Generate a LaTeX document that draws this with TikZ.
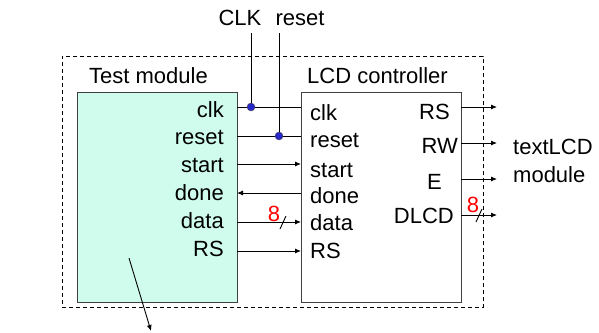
\documentclass[tikz,border=0pt]{standalone}
\usepackage{fontspec}
\setmainfont{Liberation Sans}
\usetikzlibrary{arrows.meta}
\definecolor{tmfill}{RGB}{208,252,238}
\definecolor{dotblue}{RGB}{40,40,200}
\begin{document}
\begin{tikzpicture}[x=1pt,y=-1pt,
  lbl/.style={inner sep=0pt,font=\fontsize{22}{26}\selectfont},
  red8/.style={lbl,text=red},
  box/.style={draw=black!75,line width=0.9pt,inner sep=0pt,anchor=north west},
  wire/.style={line width=0.9pt},
  arr/.style={wire,-{Latex[length=6pt,width=5pt]}},
  jdot/.style={circle,fill=dotblue,draw=black!70,line width=0.4pt,inner sep=0pt,minimum size=8pt}]
\useasboundingbox (0,0) rectangle (599,332);
% outer dashed frame
\node[draw,dash pattern=on 4pt off 3pt,line width=0.9pt,inner sep=0pt,anchor=north west,minimum width=421pt,minimum height=251pt] (frame) at (62,56) {};
% boxes
\node[box,fill=tmfill,minimum width=160pt,minimum height=210pt] (tm) at (77,92) {};
\node[box,fill=white,minimum width=160pt,minimum height=210pt] (lcd) at (301,92) {};
% titles
\node[lbl,anchor=base west] (tmt) at (89,83) {Test module};
\node[lbl,anchor=base west] (lcdt) at (307,83) {LCD controller};
\node[lbl,anchor=base] (clkt) at (240,25) {CLK};
\node[lbl,anchor=base] (rstt) at (300,25) {reset};
\node[lbl,anchor=base west] (t1) at (513,154) {textLCD};
\node[lbl,anchor=base west] (t2) at (513,182) {module};
% left labels (test module)
\node[lbl,anchor=base east] (lclk) at (224,117) {clk};
\node[lbl,anchor=base east] (lrst) at (224,144) {reset};
\node[lbl,anchor=base east] (lstart) at (224,172) {start};
\node[lbl,anchor=base east] (ldone) at (224,200) {done};
\node[lbl,anchor=base east] (ldata) at (224,228) {data};
\node[lbl,anchor=base east] (lrs) at (224,256) {RS};
% LCD input labels
\node[lbl,anchor=base west] (rclk) at (310,120) {clk};
\node[lbl,anchor=base west] (rrst) at (310,147) {reset};
\node[lbl,anchor=base west] (rstart) at (310,177) {start};
\node[lbl,anchor=base west] (rdone) at (310,203) {done};
\node[lbl,anchor=base west] (rdata) at (310,230) {data};
\node[lbl,anchor=base west] (rrs) at (310,258) {RS};
% LCD output labels
\node[lbl,anchor=base east] (ors) at (450,119) {RS};
\node[lbl,anchor=base east] (orw) at (458,153) {RW};
\node[lbl,anchor=base east] (oe) at (442,189) {E};
\node[lbl,anchor=base east] (odl) at (454,223) {DLCD};
% port coordinates
\foreach \n/\y in {clk/107,rst/136,start/164,done/193,data/222,rs/251}{
  \coordinate (a\n) at (237,\y);
  \coordinate (b\n) at (301,\y);
}
\foreach \n/\y in {rs/107,rw/143,e/179,dl/215}{
  \coordinate (o\n) at (461,\y);
  \coordinate (e\n) at (497,\y);
}
\coordinate (clktop) at (251,33);
\coordinate (rsttop) at (279,33);
\coordinate (cclk) at (251,107);
\coordinate (crst) at (279,136);
% wires
\draw[wire] (aclk) -- (bclk);
\draw[wire] (arst) -- (brst);
\draw[wire] (clktop) -- (cclk);
\draw[wire] (rsttop) -- (crst);
\node[jdot] (dclk) at (cclk) {};
\node[jdot] (drst) at (crst) {};
\draw[arr] (astart) -- (bstart);
\draw[arr] (bdone) -- (adone);
\draw[arr] (adata) -- (bdata);
\draw[arr] (ars) -- (brs);
\draw[arr] (ors) -- (ers);
\draw[arr] (orw) -- (erw);
\draw[arr] (oe) -- (ee);
\draw[arr] (odl) -- (edl);
% bus marks
\coordinate (s1a) at (280,229); \coordinate (s1b) at (286,216);
\coordinate (s2a) at (476,222); \coordinate (s2b) at (482,209);
\draw[wire] (s1a) -- (s1b);
\draw[wire] (s2a) -- (s2b);
\node[red8,anchor=base] (n1) at (274,221) {8};
\node[red8,anchor=base] (n2) at (473,212) {8};
% bottom arrow
\coordinate (ba) at (129,258);
\coordinate (bb) at (151,331);
\draw[arr] (ba) -- (bb);
\end{tikzpicture}
\end{document}
